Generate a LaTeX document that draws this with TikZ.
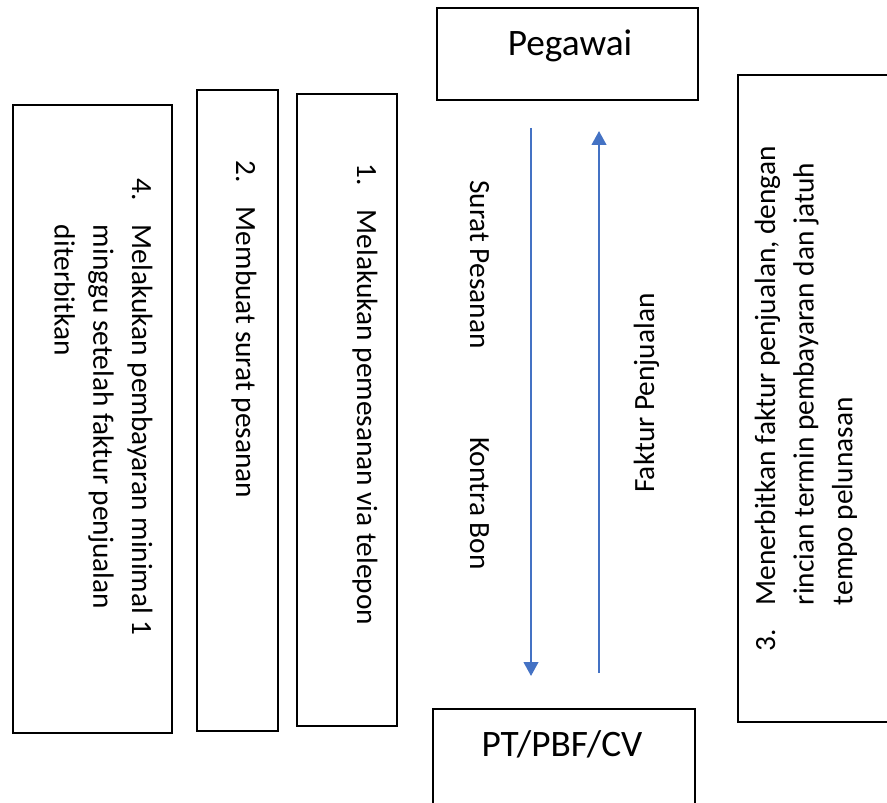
\documentclass[tikz,border=0pt]{standalone}
\usepackage{fontspec}
\setmainfont{Carlito}
\usetikzlibrary{arrows.meta,positioning}
\definecolor{flowblue}{RGB}{68,114,196}
\newdimen\px \px=0.75pt
\tikzset{
  box/.style={draw=black, line width=1.3pt, inner sep=0pt},
  flowarr/.style={-{Triangle[width=11pt,length=10.5pt]}, flowblue, line width=1.6pt},
  vtxt/.style={rotate=-90, anchor=base west, inner sep=0pt, font=\fontsize{22}{29}\selectfont},
  utxt/.style={rotate=90, anchor=base west, inner sep=0pt, font=\fontsize{22}{29}\selectfont},
  headtxt/.style={anchor=base, inner sep=0pt, font=\fontsize{28}{33}\selectfont},
}
\newcommand{\stepnum}[2]{\makebox[35pt][l]{#1}#2}

\begin{document}
\begin{tikzpicture}[x=0.75pt,y=-0.75pt]
  \useasboundingbox (0,0) rectangle (887,802);
  \clip (0,0) rectangle (887,802);
  % boxes
  \node[box, minimum width=261\px, minimum height=92\px] (peg) at (567.5,54) {};
  \node[box, minimum width=262\px, minimum height=140\px] (pt) at (564,779) {};
  \node[box, minimum width=100\px, minimum height=632\px] (s1) at (347,410) {};
  \node[box, minimum width=81\px, minimum height=641\px] (s2) at (237.5,410.5) {};
  \node[box, minimum width=159\px, minimum height=628\px] (s4) at (92.5,419) {};
  \node[box, minimum width=200\px, minimum height=647\px] (s3) at (838,398.5) {};

  \node[headtxt] (tpeg) at (570,56) {Pegawai};
  \node[headtxt] (tpt) at (562,756) {PT/PBF/CV};

  \node[vtxt] (t1) at (357,163) {\stepnum{1.}{Melakukan pemesanan via telepon}};
  \node[vtxt] (t2) at (236,160) {\stepnum{2.}{Membuat surat pesanan}};
  \node[vtxt] (t4) at (132,178) {\begin{tabular}[t]{@{}p{35pt}@{}l@{}}
    4.&Melakukan pembayaran minimal 1\\
      &minggu setelah faktur penjualan\\
      &diterbitkan\end{tabular}};
  \node[utxt] (t3) at (775,652) {\begin{tabular}[t]{@{}p{35pt}@{}l@{}}
    3.&Menerbitkan faktur penjualan, dengan\\
      &rincian termin pembayaran dan jatuh\\
      &tempo pelunasan\end{tabular}};

  % arrows between Pegawai and PT/PBF/CV
  \coordinate (d0) at (531,128);
  \coordinate (d1) at (531,676);
  \coordinate (u0) at (599,673);
  \coordinate (u1) at (599,131);
  \draw[flowarr] (d0) -- (d1);
  \draw[flowarr] (u0) -- (u1);
  \node[vtxt] (lsp) at (470,180) {Surat Pesanan};
  \node[vtxt] (lkb) at (470,437) {Kontra Bon};
  \node[utxt] (lfp) at (654,493) {Faktur Penjualan};
\end{tikzpicture}
\end{document}
